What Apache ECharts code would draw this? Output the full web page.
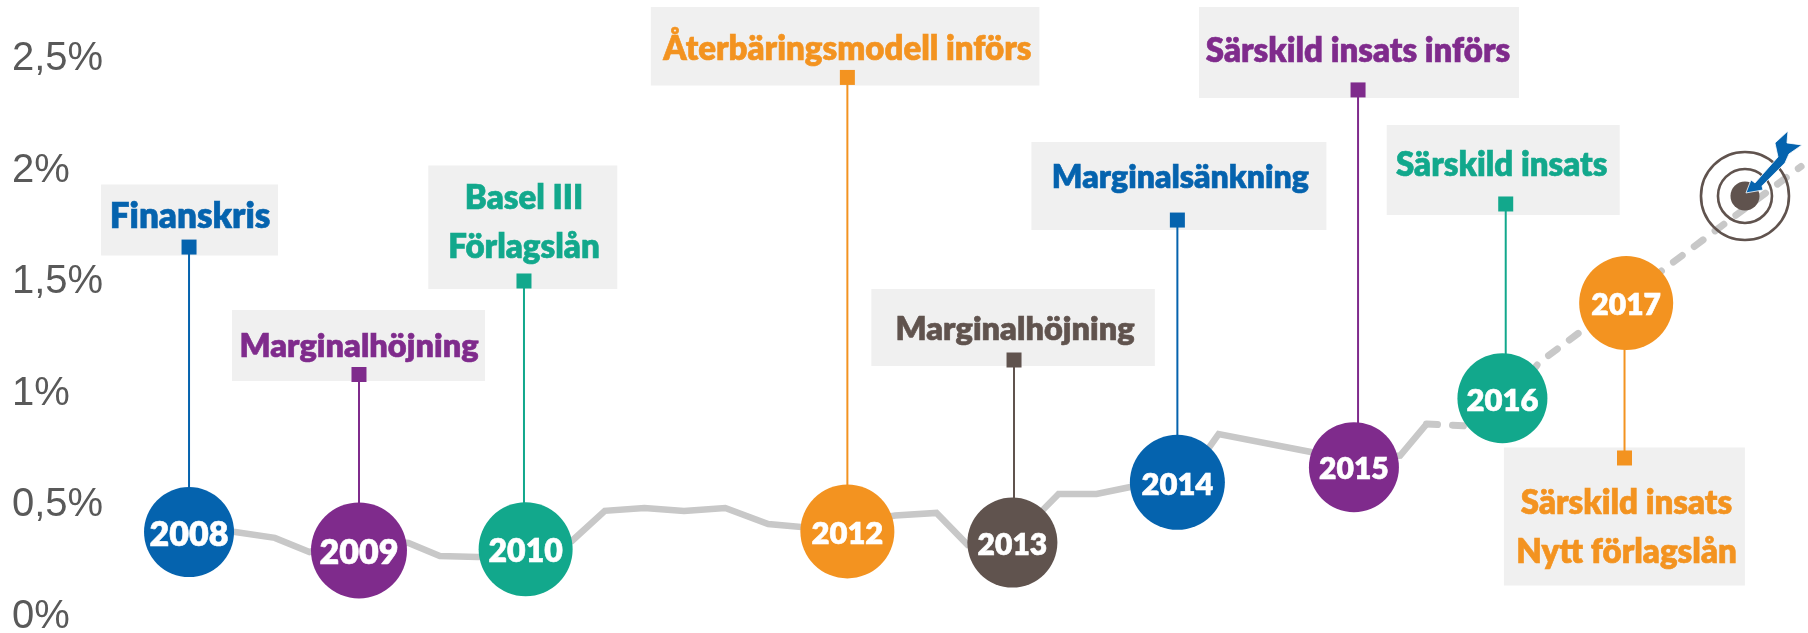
<!DOCTYPE html>
<html>
<head>
<meta charset="utf-8">
<style>html,body{margin:0;padding:0;background:#fff}#c{width:1808px;height:633px}</style>
<script src="https://cdn.jsdelivr.net/npm/echarts@6/dist/echarts.min.js"></script>
</head>
<body>
<div id="c"></div>
<script>
// ---- data ----
const yTickLabels = ['0%', '0,5%', '1%', '1,5%', '2%', '2,5%'];
const solidX = [2008.00,2008.28,2008.52,2008.73,2009.02,2009.33,2009.52,2009.75,2010.04,2010.32,2010.52,2010.76,2011.00,2011.25,2011.51,2011.71,2012.00,2012.28,2012.53,2012.72,2012.99,2013.18,2013.27,2013.50,2013.72,2013.99,2014.18,2014.24,2014.80,2015.06,2015.34,2015.50];
const solidY = [0.376,0.367,0.341,0.278,0.340,0.318,0.260,0.255,0.260,0.327,0.462,0.475,0.461,0.475,0.403,0.390,0.408,0.441,0.453,0.309,0.287,0.470,0.538,0.538,0.571,0.623,0.744,0.806,0.726,0.690,0.710,0.851];
const dashedX = [2015.50,2015.88,2016.18,2017.77];
const dashedY = [0.851,0.838,1.125,2.005];
const years = ['2008','2009','2010','2012','2013','2014','2015','2016','2017'];
const circleX = [2008.00,2009.03,2010.04,2011.99,2012.99,2013.99,2015.06,2015.96,2016.71];
const circleY = [0.367,0.285,0.290,0.370,0.320,0.590,0.658,0.967,1.393];
const eventX = [2008.00,2009.03,2010.03,2011.99,2013.00,2013.99,2015.085,2015.98,2016.70];
const eventY = [1.644,1.073,1.492,2.404,1.138,1.765,2.348,1.837,0.699];
const eventText = ['Finanskris','Marginalhöjning','Basel III\nFörlagslån','Återbäringsmodell införs','Marginalhöjning','Marginalsänkning','Särskild insats införs','Särskild insats','Särskild insats\nNytt förlagslån'];
const targetX = [2017.43];
const targetY = [1.873];

// ---- styling, separate from the values ----
const BLUE='#0563AE',PURPLE='#7F2B8C',TEAL='#12A88C',ORANGE='#F39320',BROWN='#60534E';
const eventColors = [BLUE,PURPLE,TEAL,ORANGE,BROWN,BLUE,PURPLE,TEAL,ORANGE];
const circleSizes = [90,96,94,94,90,95,90,90,94];
const circleFonts = [34,34,32,31,30,31,30,31,30];
// box edges and text centre relative to the square marker: left,right,top,bottom,textDx,textDy
const boxLayout = [
  [-88,89,-62.5,8.5,1,-30],
  [-127,126,-64.6,6.4,0,-27.6],
  [-95.7,93.3,-115.5,8,0,-58.5],
  [-196.5,192,-70.5,8,0,-28],
  [-142.7,140.8,-71,6,1,-30],
  [-146,149,-78,10,3,-42],
  [-159,161,-83,8,0,-38.6],
  [-119,114,-79,11,-4,-39],
  [-120.6,120.4,-10.4,127.5,2,69.5]
];
const textFont = 'Lato, "Open Sans", sans-serif';
const eventFonts = [35,32.5,33,33,32.5,32,33,33,33];
const zip = (a,b) => a.map((v,i)=>[v,b[i]]);

// Dart and rings, relative to the bull's-eye
const dart = [[1,-3],[6,-16],[10,-13],[33,-39],[30,-53],[43,-65],[42,-53],[57,-51],[44,-42],[40,-33],[17,-10],[18,-6]];

const chart = echarts.init(document.getElementById('c'));
chart.setOption({
  animation:false,
  backgroundColor:'#fff',
  grid:{left:110,right:0,top:56,bottom:19,outerBoundsMode:'none'},
  xAxis:{type:'value',min:2007.521,max:2017.812,show:false},
  yAxis:{type:'value',min:0,max:2.5,interval:0.5,
    axisLine:{show:false},axisTick:{show:false},splitLine:{show:false},
    axisLabel:{formatter:(v)=>yTickLabels[Math.round(v/0.5)],align:'left',margin:98,
      verticalAlign:'top',lineHeight:40,padding:[-17,0,0,0],
      color:'#595959',fontSize:40,fontFamily:'"Liberation Sans",Arial,sans-serif'}},
  series:[
    {type:'line',data:zip(solidX,solidY),symbol:'none',z:2,
      lineStyle:{color:'#C8C8C8',width:6.5,join:'miter'}},
    {type:'line',data:zip(dashedX,dashedY),symbol:'none',z:2,
      lineStyle:{color:'#C8C8C8',width:7,type:[11,15],cap:'round'}},
    {type:'custom',z:3,clip:false,coordinateSystem:'cartesian2d',
      data:eventX.map((x,i)=>[x,eventY[i],circleY[i],i]),
      renderItem(params,api){
        const i=api.value(3);
        const p=api.coord([api.value(0),api.value(1)]);
        const c=api.coord([api.value(0),api.value(2)]);
        const b=boxLayout[i],col=eventColors[i];
        return {type:'group',children:[
          {type:'rect',shape:{x:p[0]+b[0],y:p[1]+b[2],width:b[1]-b[0],height:b[3]-b[2]},style:{fill:'#F0F0F0'}},
          {type:'text',x:p[0]+b[4],y:p[1]+b[5],style:{text:eventText[i],fill:col,stroke:col,lineWidth:0.6,
            font:'800 '+eventFonts[i]+'px '+textFont,align:'center',verticalAlign:'middle',lineHeight:49}},
          {type:'line',shape:{x1:p[0],y1:p[1],x2:c[0],y2:c[1]},style:{stroke:col,lineWidth:2}},
          {type:'rect',shape:{x:p[0]-7.5,y:p[1]-7.5,width:15,height:15},style:{fill:col}}
        ]};
      }},
    {type:'scatter',z:4,data:circleX.map((x,i)=>({value:[x,circleY[i]],symbolSize:circleSizes[i],
        itemStyle:{color:eventColors[i],opacity:1},
        label:{formatter:years[i],fontSize:circleFonts[i]}})),
      label:{show:true,position:'inside',offset:[0,2.5],color:'#fff',fontFamily:textFont,fontWeight:800,
        textBorderColor:'#fff',textBorderWidth:0.6}},
    {type:'custom',z:5,clip:false,coordinateSystem:'cartesian2d',
      data:zip(targetX,targetY),
      renderItem(params,api){
        const p=api.coord([api.value(0),api.value(1)]);
        const ring=(r)=>({type:'circle',shape:{cx:p[0],cy:p[1],r},style:{fill:'none',stroke:BROWN,lineWidth:2.6}});
        return {type:'group',children:[
          ring(44),ring(27),
          {type:'circle',shape:{cx:p[0],cy:p[1],r:14.5},style:{fill:BROWN}},
          {type:'polygon',shape:{points:dart.map(d=>[p[0]+d[0],p[1]+d[1]])},style:{fill:BLUE,stroke:'#fff',lineWidth:0.8}}
        ]};
      }}
  ]
});
</script>
</body>
</html>
